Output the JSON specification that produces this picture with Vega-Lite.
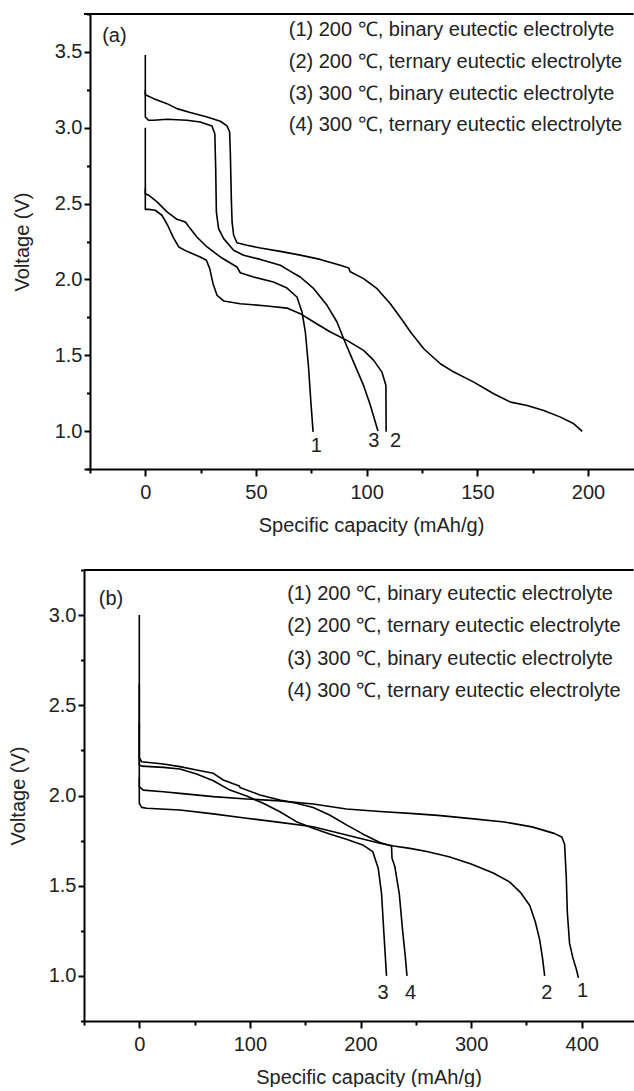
{
  "$schema": "https://vega.github.io/schema/vega-lite/v6.json",
  "background": "white",
  "padding": {"left": 8, "top": 13, "right": 0, "bottom": 0},
  "spacing": 34,
  "datasets": {
    "curvesA": [
      {"curve": "1", "i": 0, "cap": 0, "V": 3.0}, {"curve": "1", "i": 1, "cap": 0, "V": 2.565}, {"curve": "1", "i": 2, "cap": 1.5, "V": 2.555}, {"curve": "1", "i": 3, "cap": 5.3, "V": 2.511}, {"curve": "1", "i": 4, "cap": 9.8, "V": 2.445}, {"curve": "1", "i": 5, "cap": 14.3, "V": 2.396}, {"curve": "1", "i": 6, "cap": 18.1, "V": 2.379}, {"curve": "1", "i": 7, "cap": 20.3, "V": 2.335}, {"curve": "1", "i": 8, "cap": 23.3, "V": 2.28}, {"curve": "1", "i": 9, "cap": 27.9, "V": 2.214}, {"curve": "1", "i": 10, "cap": 33.9, "V": 2.148}, {"curve": "1", "i": 11, "cap": 41.4, "V": 2.082}, {"curve": "1", "i": 12, "cap": 42.9, "V": 2.044}, {"curve": "1", "i": 13, "cap": 48.9, "V": 2.016}, {"curve": "1", "i": 14, "cap": 57.9, "V": 1.983}, {"curve": "1", "i": 15, "cap": 64, "V": 1.943}, {"curve": "1", "i": 16, "cap": 68.5, "V": 1.884}, {"curve": "1", "i": 17, "cap": 70.8, "V": 1.785}, {"curve": "1", "i": 18, "cap": 72.3, "V": 1.653}, {"curve": "1", "i": 19, "cap": 73.8, "V": 1.411}, {"curve": "1", "i": 20, "cap": 74.8, "V": 1.191}, {"curve": "1", "i": 21, "cap": 75.8, "V": 0.995},
      {"curve": "2", "i": 0, "cap": 0, "V": 2.6}, {"curve": "2", "i": 1, "cap": 0, "V": 2.462}, {"curve": "2", "i": 2, "cap": 1.5, "V": 2.462}, {"curve": "2", "i": 3, "cap": 4.5, "V": 2.456}, {"curve": "2", "i": 4, "cap": 7.5, "V": 2.423}, {"curve": "2", "i": 5, "cap": 10.1, "V": 2.357}, {"curve": "2", "i": 6, "cap": 12.5, "V": 2.28}, {"curve": "2", "i": 7, "cap": 15.1, "V": 2.214}, {"curve": "2", "i": 8, "cap": 18.8, "V": 2.185}, {"curve": "2", "i": 9, "cap": 24.8, "V": 2.148}, {"curve": "2", "i": 10, "cap": 27.6, "V": 2.126}, {"curve": "2", "i": 11, "cap": 29.1, "V": 2.071}, {"curve": "2", "i": 12, "cap": 30.6, "V": 1.972}, {"curve": "2", "i": 13, "cap": 32.4, "V": 1.895}, {"curve": "2", "i": 14, "cap": 35.4, "V": 1.858}, {"curve": "2", "i": 15, "cap": 42.9, "V": 1.84}, {"curve": "2", "i": 16, "cap": 55, "V": 1.825}, {"curve": "2", "i": 17, "cap": 64, "V": 1.811}, {"curve": "2", "i": 18, "cap": 70, "V": 1.774}, {"curve": "2", "i": 19, "cap": 76.1, "V": 1.719}, {"curve": "2", "i": 20, "cap": 83.6, "V": 1.653}, {"curve": "2", "i": 21, "cap": 91.1, "V": 1.598}, {"curve": "2", "i": 22, "cap": 98.6, "V": 1.532}, {"curve": "2", "i": 23, "cap": 103.2, "V": 1.466}, {"curve": "2", "i": 24, "cap": 106.9, "V": 1.389}, {"curve": "2", "i": 25, "cap": 108.7, "V": 1.301}, {"curve": "2", "i": 26, "cap": 108.8, "V": 0.995},
      {"curve": "3", "i": 0, "cap": 0, "V": 3.25}, {"curve": "3", "i": 1, "cap": 0, "V": 3.071}, {"curve": "3", "i": 2, "cap": 1.5, "V": 3.049}, {"curve": "3", "i": 3, "cap": 3.8, "V": 3.049}, {"curve": "3", "i": 4, "cap": 9.8, "V": 3.056}, {"curve": "3", "i": 5, "cap": 18.8, "V": 3.049}, {"curve": "3", "i": 6, "cap": 24.8, "V": 3.038}, {"curve": "3", "i": 7, "cap": 30.1, "V": 3.012}, {"curve": "3", "i": 8, "cap": 31.4, "V": 2.961}, {"curve": "3", "i": 9, "cap": 31.8, "V": 2.73}, {"curve": "3", "i": 10, "cap": 32.1, "V": 2.445}, {"curve": "3", "i": 11, "cap": 33.1, "V": 2.335}, {"curve": "3", "i": 12, "cap": 35.4, "V": 2.269}, {"curve": "3", "i": 13, "cap": 39.9, "V": 2.192}, {"curve": "3", "i": 14, "cap": 44.4, "V": 2.159}, {"curve": "3", "i": 15, "cap": 52, "V": 2.132}, {"curve": "3", "i": 16, "cap": 61, "V": 2.093}, {"curve": "3", "i": 17, "cap": 64.8, "V": 2.06}, {"curve": "3", "i": 18, "cap": 70, "V": 2.016}, {"curve": "3", "i": 19, "cap": 76.1, "V": 1.939}, {"curve": "3", "i": 20, "cap": 82.1, "V": 1.829}, {"curve": "3", "i": 21, "cap": 86.6, "V": 1.719}, {"curve": "3", "i": 22, "cap": 89.6, "V": 1.609}, {"curve": "3", "i": 23, "cap": 94.1, "V": 1.455}, {"curve": "3", "i": 24, "cap": 98.6, "V": 1.301}, {"curve": "3", "i": 25, "cap": 101.7, "V": 1.169}, {"curve": "3", "i": 26, "cap": 105.1, "V": 1.0},
      {"curve": "4", "i": 0, "cap": 0, "V": 3.48}, {"curve": "4", "i": 1, "cap": 0, "V": 3.218}, {"curve": "4", "i": 2, "cap": 3.8, "V": 3.192}, {"curve": "4", "i": 3, "cap": 9.8, "V": 3.159}, {"curve": "4", "i": 4, "cap": 14.3, "V": 3.126}, {"curve": "4", "i": 5, "cap": 20.3, "V": 3.1}, {"curve": "4", "i": 6, "cap": 27.9, "V": 3.071}, {"curve": "4", "i": 7, "cap": 33.9, "V": 3.043}, {"curve": "4", "i": 8, "cap": 36.9, "V": 3.012}, {"curve": "4", "i": 9, "cap": 38.1, "V": 2.972}, {"curve": "4", "i": 10, "cap": 38.4, "V": 2.84}, {"curve": "4", "i": 11, "cap": 38.9, "V": 2.51}, {"curve": "4", "i": 12, "cap": 39.2, "V": 2.379}, {"curve": "4", "i": 13, "cap": 39.9, "V": 2.291}, {"curve": "4", "i": 14, "cap": 41.4, "V": 2.242}, {"curve": "4", "i": 15, "cap": 45.9, "V": 2.225}, {"curve": "4", "i": 16, "cap": 52, "V": 2.207}, {"curve": "4", "i": 17, "cap": 61, "V": 2.185}, {"curve": "4", "i": 18, "cap": 70, "V": 2.16}, {"curve": "4", "i": 19, "cap": 79, "V": 2.132}, {"curve": "4", "i": 20, "cap": 88.1, "V": 2.093}, {"curve": "4", "i": 21, "cap": 91.9, "V": 2.075}, {"curve": "4", "i": 22, "cap": 92.6, "V": 2.05}, {"curve": "4", "i": 23, "cap": 98.6, "V": 2.005}, {"curve": "4", "i": 24, "cap": 104.7, "V": 1.939}, {"curve": "4", "i": 25, "cap": 110.7, "V": 1.84}, {"curve": "4", "i": 26, "cap": 116.7, "V": 1.719}, {"curve": "4", "i": 27, "cap": 119.8, "V": 1.653}, {"curve": "4", "i": 28, "cap": 125.8, "V": 1.543}, {"curve": "4", "i": 29, "cap": 133.3, "V": 1.444}, {"curve": "4", "i": 30, "cap": 139.4, "V": 1.389}, {"curve": "4", "i": 31, "cap": 148.4, "V": 1.323}, {"curve": "4", "i": 32, "cap": 157.4, "V": 1.246}, {"curve": "4", "i": 33, "cap": 165, "V": 1.191}, {"curve": "4", "i": 34, "cap": 172.5, "V": 1.169}, {"curve": "4", "i": 35, "cap": 180, "V": 1.136}, {"curve": "4", "i": 36, "cap": 187.6, "V": 1.092}, {"curve": "4", "i": 37, "cap": 193.6, "V": 1.048}, {"curve": "4", "i": 38, "cap": 197.4, "V": 0.998}
    ],
    "curvesB": [
      {"curve": "1", "i": 0, "cap": 0, "V": 2.4}, {"curve": "1", "i": 1, "cap": 0, "V": 2.049}, {"curve": "1", "i": 2, "cap": 3.6, "V": 2.03}, {"curve": "1", "i": 3, "cap": 21.7, "V": 2.021}, {"curve": "1", "i": 4, "cap": 36.7, "V": 2.012}, {"curve": "1", "i": 5, "cap": 66.9, "V": 1.994}, {"curve": "1", "i": 6, "cap": 97, "V": 1.981}, {"curve": "1", "i": 7, "cap": 127.1, "V": 1.97}, {"curve": "1", "i": 8, "cap": 157.2, "V": 1.953}, {"curve": "1", "i": 9, "cap": 187.3, "V": 1.925}, {"curve": "1", "i": 10, "cap": 217.5, "V": 1.911}, {"curve": "1", "i": 11, "cap": 244.6, "V": 1.901}, {"curve": "1", "i": 12, "cap": 270, "V": 1.89}, {"curve": "1", "i": 13, "cap": 300, "V": 1.872}, {"curve": "1", "i": 14, "cap": 330, "V": 1.853}, {"curve": "1", "i": 15, "cap": 355, "V": 1.826}, {"curve": "1", "i": 16, "cap": 375, "V": 1.79}, {"curve": "1", "i": 17, "cap": 382, "V": 1.77}, {"curve": "1", "i": 18, "cap": 384.5, "V": 1.73}, {"curve": "1", "i": 19, "cap": 386, "V": 1.55}, {"curve": "1", "i": 20, "cap": 387, "V": 1.35}, {"curve": "1", "i": 21, "cap": 389, "V": 1.18}, {"curve": "1", "i": 22, "cap": 392, "V": 1.1}, {"curve": "1", "i": 23, "cap": 395, "V": 1.04}, {"curve": "1", "i": 24, "cap": 397, "V": 0.99},
      {"curve": "2", "i": 0, "cap": 0, "V": 2.1}, {"curve": "2", "i": 1, "cap": 0, "V": 1.957}, {"curve": "2", "i": 2, "cap": 2.1, "V": 1.934}, {"curve": "2", "i": 3, "cap": 6.6, "V": 1.929}, {"curve": "2", "i": 4, "cap": 36.7, "V": 1.92}, {"curve": "2", "i": 5, "cap": 66.9, "V": 1.898}, {"curve": "2", "i": 6, "cap": 97, "V": 1.874}, {"curve": "2", "i": 7, "cap": 127.1, "V": 1.851}, {"curve": "2", "i": 8, "cap": 157.2, "V": 1.827}, {"curve": "2", "i": 9, "cap": 187.3, "V": 1.781}, {"curve": "2", "i": 10, "cap": 217.5, "V": 1.735}, {"curve": "2", "i": 11, "cap": 230, "V": 1.72}, {"curve": "2", "i": 12, "cap": 244.6, "V": 1.707}, {"curve": "2", "i": 13, "cap": 260, "V": 1.69}, {"curve": "2", "i": 14, "cap": 280, "V": 1.66}, {"curve": "2", "i": 15, "cap": 300, "V": 1.62}, {"curve": "2", "i": 16, "cap": 320, "V": 1.57}, {"curve": "2", "i": 17, "cap": 335, "V": 1.52}, {"curve": "2", "i": 18, "cap": 345, "V": 1.46}, {"curve": "2", "i": 19, "cap": 353, "V": 1.39}, {"curve": "2", "i": 20, "cap": 358, "V": 1.3}, {"curve": "2", "i": 21, "cap": 362, "V": 1.2}, {"curve": "2", "i": 22, "cap": 364.5, "V": 1.1}, {"curve": "2", "i": 23, "cap": 366.5, "V": 1.0},
      {"curve": "3", "i": 0, "cap": 0, "V": 3.0}, {"curve": "3", "i": 1, "cap": 0, "V": 2.17}, {"curve": "3", "i": 2, "cap": 2.1, "V": 2.163}, {"curve": "3", "i": 3, "cap": 21.7, "V": 2.156}, {"curve": "3", "i": 4, "cap": 36.7, "V": 2.147}, {"curve": "3", "i": 5, "cap": 51.8, "V": 2.119}, {"curve": "3", "i": 6, "cap": 66.9, "V": 2.082}, {"curve": "3", "i": 7, "cap": 82, "V": 2.03}, {"curve": "3", "i": 8, "cap": 97, "V": 1.997}, {"curve": "3", "i": 9, "cap": 112, "V": 1.957}, {"curve": "3", "i": 10, "cap": 127.1, "V": 1.91}, {"curve": "3", "i": 11, "cap": 142, "V": 1.855}, {"curve": "3", "i": 12, "cap": 157.2, "V": 1.818}, {"curve": "3", "i": 13, "cap": 172, "V": 1.787}, {"curve": "3", "i": 14, "cap": 187.3, "V": 1.757}, {"curve": "3", "i": 15, "cap": 202, "V": 1.726}, {"curve": "3", "i": 16, "cap": 211, "V": 1.689}, {"curve": "3", "i": 17, "cap": 216, "V": 1.597}, {"curve": "3", "i": 18, "cap": 219, "V": 1.458}, {"curve": "3", "i": 19, "cap": 221, "V": 1.25}, {"curve": "3", "i": 20, "cap": 222.5, "V": 1.1}, {"curve": "3", "i": 21, "cap": 223.5, "V": 1.0},
      {"curve": "4", "i": 0, "cap": 0, "V": 2.62}, {"curve": "4", "i": 1, "cap": 0, "V": 2.21}, {"curve": "4", "i": 2, "cap": 2.1, "V": 2.187}, {"curve": "4", "i": 3, "cap": 21.7, "V": 2.175}, {"curve": "4", "i": 4, "cap": 36.7, "V": 2.16}, {"curve": "4", "i": 5, "cap": 51.8, "V": 2.141}, {"curve": "4", "i": 6, "cap": 66.9, "V": 2.123}, {"curve": "4", "i": 7, "cap": 75.9, "V": 2.086}, {"curve": "4", "i": 8, "cap": 90.4, "V": 2.053}, {"curve": "4", "i": 9, "cap": 91, "V": 2.045}, {"curve": "4", "i": 10, "cap": 109, "V": 2.003}, {"curve": "4", "i": 11, "cap": 127.1, "V": 1.975}, {"curve": "4", "i": 12, "cap": 142, "V": 1.957}, {"curve": "4", "i": 13, "cap": 157.2, "V": 1.934}, {"curve": "4", "i": 14, "cap": 172, "V": 1.892}, {"curve": "4", "i": 15, "cap": 187.3, "V": 1.837}, {"curve": "4", "i": 16, "cap": 202, "V": 1.787}, {"curve": "4", "i": 17, "cap": 217.5, "V": 1.739}, {"curve": "4", "i": 18, "cap": 228, "V": 1.72}, {"curve": "4", "i": 19, "cap": 228.5, "V": 1.652}, {"curve": "4", "i": 20, "cap": 231, "V": 1.606}, {"curve": "4", "i": 21, "cap": 235, "V": 1.458}, {"curve": "4", "i": 22, "cap": 238, "V": 1.255}, {"curve": "4", "i": 23, "cap": 240.5, "V": 1.107}, {"curve": "4", "i": 24, "cap": 242, "V": 1.0}
    ],
    "legendA": [
      {"label": "(a)", "cap": -19.5, "V": 3.566},
      {"label": "(1) 200 ℃, binary eutectic electrolyte", "cap": 64.8, "V": 3.604},
      {"label": "(2) 200 ℃, ternary eutectic electrolyte", "cap": 64.8, "V": 3.395},
      {"label": "(3) 300 ℃, binary eutectic electrolyte", "cap": 64.8, "V": 3.186},
      {"label": "(4) 300 ℃, ternary eutectic electrolyte", "cap": 64.8, "V": 2.977}
    ],
    "numA": [
      {"label": "1", "cap": 77.3, "V": 0.861},
      {"label": "3", "cap": 103.2, "V": 0.894},
      {"label": "2", "cap": 113.0, "V": 0.894}
    ],
    "legendB": [
      {"label": "(b)", "cap": -36.6, "V": 3.057},
      {"label": "(1) 200 ℃, binary eutectic electrolyte", "cap": 133.7, "V": 3.083},
      {"label": "(2) 200 ℃, ternary eutectic electrolyte", "cap": 133.7, "V": 2.904},
      {"label": "(3) 300 ℃, binary eutectic electrolyte", "cap": 133.7, "V": 2.726},
      {"label": "(4) 300 ℃, ternary eutectic electrolyte", "cap": 133.7, "V": 2.547}
    ],
    "numB": [
      {"label": "3", "cap": 220.3, "V": 0.872},
      {"label": "4", "cap": 245.2, "V": 0.872},
      {"label": "2", "cap": 368.5, "V": 0.872},
      {"label": "1", "cap": 400.7, "V": 0.883}
    ]
  },
  "vconcat": [
    {
      "width": 549.5,
      "height": 455,
      "layer": [
        {
          "data": {"name": "curvesA"},
          "mark": {"type": "line", "color": "#000", "strokeWidth": 1.6, "strokeJoin": "round"},
          "encoding": {
            "x": {"field": "cap", "type": "quantitative",
              "scale": {"domain": [-27.7, 220.55], "nice": false, "zero": false},
              "axis": {"title": "Specific capacity (mAh/g)", "titleX": 287, "tickCount": 100,
                "values": [-25, 0, 25, 50, 75, 100, 125, 150, 175, 200],
                "labelExpr": "datum.value % 50 === 0 ? datum.label : ''",
                "labelFontSize": {"condition": {"test": "datum.value % 50 !== 0", "value": 0}, "value": 20},
                "tickSize": {"condition": {"test": "datum.value % 50 !== 0", "value": 4}, "value": 7},
                "labelPadding": 6, "titlePadding": 13}},
            "y": {"field": "V", "type": "quantitative",
              "scale": {"domain": [0.75, 3.75], "nice": false, "zero": false},
              "axis": {"title": "Voltage (V)", "offset": -6, "format": ".1f", "tickCount": 100,
                "values": [0.75, 1, 1.25, 1.5, 1.75, 2, 2.25, 2.5, 2.75, 3, 3.25, 3.5, 3.75],
                "labelExpr": "(datum.value * 2) % 1 === 0 ? datum.label : ''",
                "labelFontSize": {"condition": {"test": "(datum.value * 2) % 1 !== 0", "value": 0}, "value": 20},
                "tickSize": {"condition": {"test": "(datum.value * 2) % 1 !== 0", "value": 3.5}, "value": 6},
                "labelPadding": 2, "titlePadding": 22}},
            "detail": {"field": "curve"},
            "order": {"field": "i"}
          }
        },
        {
          "data": {"values": [{}]},
          "mark": {"type": "rule", "color": "#000", "strokeWidth": 2},
          "encoding": {"y": {"datum": 3.75}}
        },
        {
          "data": {"name": "legendA"},
          "mark": {"type": "text", "align": "left", "baseline": "alphabetic"},
          "encoding": {
            "x": {"field": "cap", "type": "quantitative"},
            "y": {"field": "V", "type": "quantitative"},
            "text": {"field": "label"}
          }
        },
        {
          "data": {"name": "numA"},
          "mark": {"type": "text", "align": "center", "baseline": "alphabetic"},
          "encoding": {
            "x": {"field": "cap", "type": "quantitative"},
            "y": {"field": "V", "type": "quantitative"},
            "text": {"field": "label"}
          }
        }
      ]
    },
    {
      "width": 549.5,
      "height": 451,
      "layer": [
        {
          "data": {"name": "curvesB"},
          "mark": {"type": "line", "color": "#000", "strokeWidth": 1.6, "strokeJoin": "round"},
          "encoding": {
            "x": {"field": "cap", "type": "quantitative",
              "scale": {"domain": [-50, 446.8], "nice": false, "zero": false},
              "axis": {"title": "Specific capacity (mAh/g)", "titleX": 284.5, "tickCount": 100,
                "values": [-50, 0, 50, 100, 150, 200, 250, 300, 350, 400],
                "labelExpr": "datum.value % 100 === 0 ? datum.label : ''",
                "labelFontSize": {"condition": {"test": "datum.value % 100 !== 0", "value": 0}, "value": 20},
                "tickSize": {"condition": {"test": "datum.value % 100 !== 0", "value": 4}, "value": 7},
                "labelPadding": 6, "titlePadding": 13}},
            "y": {"field": "V", "type": "quantitative",
              "scale": {"domain": [0.75, 3.25], "nice": false, "zero": false},
              "axis": {"title": "Voltage (V)", "format": ".1f", "tickCount": 100,
                "values": [0.75, 1, 1.25, 1.5, 1.75, 2, 2.25, 2.5, 2.75, 3, 3.25],
                "labelExpr": "(datum.value * 2) % 1 === 0 ? datum.label : ''",
                "labelFontSize": {"condition": {"test": "(datum.value * 2) % 1 !== 0", "value": 0}, "value": 20},
                "tickSize": {"condition": {"test": "(datum.value * 2) % 1 !== 0", "value": 3.5}, "value": 6},
                "labelPadding": 2, "titlePadding": 20}},
            "detail": {"field": "curve"},
            "order": {"field": "i"}
          }
        },
        {
          "data": {"values": [{}]},
          "mark": {"type": "rule", "color": "#000", "strokeWidth": 2},
          "encoding": {"y": {"datum": 3.25}}
        },
        {
          "data": {"name": "legendB"},
          "mark": {"type": "text", "align": "left", "baseline": "alphabetic"},
          "encoding": {
            "x": {"field": "cap", "type": "quantitative"},
            "y": {"field": "V", "type": "quantitative"},
            "text": {"field": "label"}
          }
        },
        {
          "data": {"name": "numB"},
          "mark": {"type": "text", "align": "center", "baseline": "alphabetic"},
          "encoding": {
            "x": {"field": "cap", "type": "quantitative"},
            "y": {"field": "V", "type": "quantitative"},
            "text": {"field": "label"}
          }
        }
      ]
    }
  ],
  "config": {
    "view": {"stroke": null},
    "axis": {
      "domainColor": "#000", "domainWidth": 2, "tickColor": "#000", "tickWidth": 2, "grid": false,
      "labelFont": "Liberation Sans", "labelFontSize": 20, "labelColor": "#222", "labelOverlap": false,
      "titleFont": "Liberation Sans", "titleFontSize": 20, "titleFontWeight": "normal", "titleColor": "#222"
    },
    "text": {"font": "Liberation Sans", "fontSize": 20, "color": "#222"}
  }
}
